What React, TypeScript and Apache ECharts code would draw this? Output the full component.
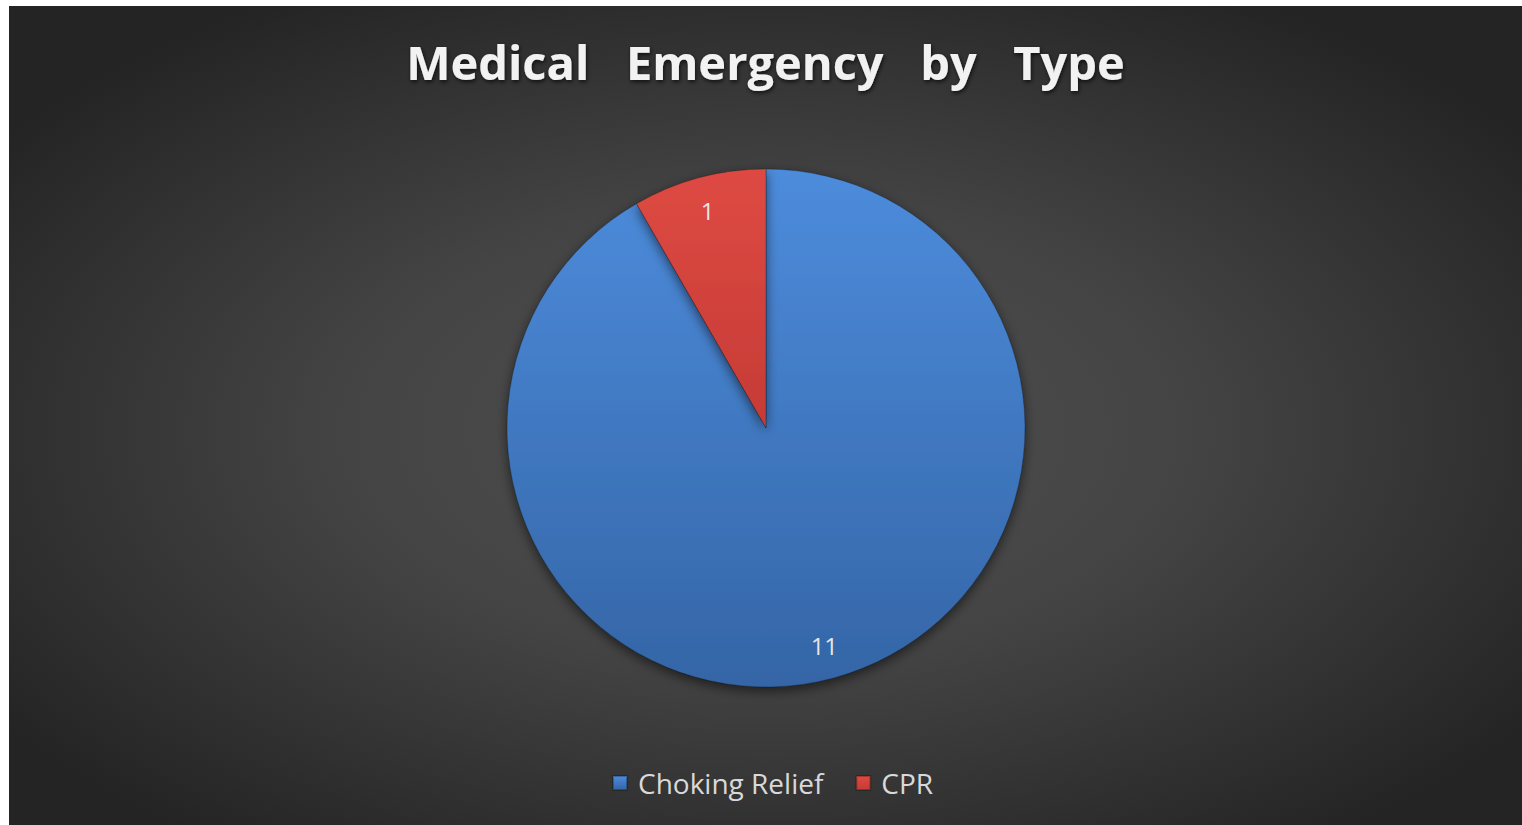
import React, { useEffect, useRef } from "react";
import * as echarts from "echarts";

const categories = ["Choking Relief", "CPR"];
const values = [11, 1];
const titleText = "Medical   Emergency   by   Type";

const sliceColors = [
  { top: "#4d8cdc", bottom: "#3465a6" },
  { top: "#de4a43", bottom: "#c53b35" },
];

export default function App() {
  const ref = useRef<HTMLDivElement>(null);
  useEffect(() => {
    if (!ref.current) return;
    const chart = echarts.init(ref.current, undefined, { renderer: "svg" });
    const data = categories.map((name, i) => ({
      name,
      value: values[i],
      itemStyle: {
        color: new echarts.graphic.LinearGradient(0, 0, 0, 1, [
          { offset: 0, color: sliceColors[i].top },
          { offset: 1, color: sliceColors[i].bottom },
        ]),
      },
    }));
    chart.setOption({
      animation: false,
      backgroundColor: "#ffffff",
      graphic: [
        {
          type: "rect",
          z: -10,
          silent: true,
          shape: { x: 0, y: 0, width: 1513, height: 819 },
          style: {
            fill: new echarts.graphic.RadialGradient(0.5, 0.52, 0.62, [
              { offset: 0, color: "#505050" },
              { offset: 0.45, color: "#444444" },
              { offset: 1, color: "#242424" },
            ]),
          },
        },
      ],
      title: {
        text: titleText,
        left: "center",
        top: 27,
        textStyle: {
          fontFamily: "Open Sans",
          fontWeight: "bold",
          fontSize: 47,
          color: "#f2f2f2",
          textShadowColor: "rgba(0,0,0,0.7)",
          textShadowBlur: 4,
          textShadowOffsetX: 1,
          textShadowOffsetY: 2,
        },
      },
      legend: {
        bottom: 23,
        left: 598,
        icon: "rect",
        itemWidth: 14,
        itemHeight: 14,
        itemGap: 32,
        data: categories,
        textStyle: {
          fontFamily: "Open Sans",
          fontSize: 28,
          color: "#d9d9d9",
          padding: [0, 0, 0, 6],
        },
      },
      series: [
        {
          type: "pie",
          center: [757, 422],
          radius: [0, 259],
          startAngle: 90,
          clockwise: true,
          label: { show: false },
          labelLine: { show: false },
          itemStyle: {
            borderColor: "rgba(0,0,0,0.25)",
            borderWidth: 1,
            shadowBlur: 12,
            shadowColor: "rgba(0,0,0,0.55)",
            shadowOffsetY: 4,
          },
          emphasis: { disabled: true },
          data,
        },
        {
          type: "pie",
          center: [757, 422],
          radius: [186, 259],
          startAngle: 90,
          clockwise: true,
          silent: true,
          legendHoverLink: false,
          itemStyle: { color: "rgba(0,0,0,0)" },
          label: {
            show: true,
            position: "inside",
            formatter: "{c}",
            fontFamily: "Open Sans",
            fontSize: 24,
            color: "#e6e6e6",
          },
          labelLine: { show: false },
          emphasis: { disabled: true },
          data: categories.map((name, i) => ({ name: name + " ", value: values[i] })),
        },
      ],
    });
    return () => chart.dispose();
  }, []);
  return (
    <div
      ref={ref}
      style={{ position: "absolute", left: 9, top: 6, width: 1513, height: 819 }}
    />
  );
}
